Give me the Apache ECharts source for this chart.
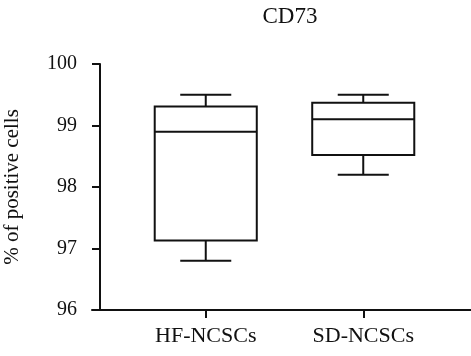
<!DOCTYPE html>
<html>
<head>
<meta charset="utf-8">
<script src="https://cdn.jsdelivr.net/npm/echarts@6/dist/echarts.min.js"></script>
<style>html,body{margin:0;padding:0;background:#fff;}#c{width:471px;height:356px;}</style>
</head>
<body>
<div id="c"></div>
<script>
const categories = ['HF-NCSCs', 'SD-NCSCs'];
const mins    = [96.80, 98.20];
const q1s     = [97.13, 98.52];
const medians = [98.90, 99.10];
const q3s     = [99.31, 99.37];
const maxs    = [99.50, 99.50];
const yTicks  = [96, 97, 98, 99, 100];
const titleText = 'CD73';
const yName = '% of positive cells';

const FONT = 'Liberation Serif';
const data = categories.map((c, i) => [i, mins[i], q1s[i], medians[i], q3s[i], maxs[i]]);

const chart = echarts.init(document.getElementById('c'), null, {renderer: 'canvas'});
chart.setOption({
  animation: false,
  backgroundColor: '#fff',
  title: {
    text: titleText, left: 285, top: 0, textAlign: 'center',
    textStyle: {fontFamily: FONT, fontSize: 23, fontWeight: 'normal', color: '#111'}
  },
  grid: [
    {left: 127, right: 29, top: 64, bottom: 46, containLabel: false, outerBoundsMode: 'none'},
    {left: 92, right: 0, top: 64, bottom: 46, containLabel: false, outerBoundsMode: 'none'}
  ],
  xAxis: [
    {
      type: 'category', gridIndex: 0, data: categories,
      axisLine: {show: false},
      axisTick: {show: true, alignWithLabel: true, length: 8, lineStyle: {color: '#111', width: 2}},
      axisLabel: {fontFamily: FONT, fontSize: 22, color: '#111', margin: 15},
      splitLine: {show: false}
    },
    {
      type: 'value', gridIndex: 1, min: 0, max: 1,
      axisLine: {show: true, lineStyle: {color: '#111', width: 2}},
      axisTick: {show: false}, axisLabel: {show: false}, splitLine: {show: false}
    }
  ],
  yAxis: [
    {
      type: 'value', gridIndex: 0, min: yTicks[0], max: yTicks[yTicks.length - 1], interval: 1,
      offset: 27,
      name: yName, nameLocation: 'middle', nameGap: 77, nameRotate: 90,
      nameTextStyle: {fontFamily: FONT, fontSize: 21, color: '#111'},
      axisLine: {show: true, lineStyle: {color: '#111', width: 2}},
      axisTick: {show: true, length: 8, lineStyle: {color: '#111', width: 2}},
      axisLabel: {fontFamily: FONT, fontSize: 20, color: '#111', margin: 23},
      splitLine: {show: false}
    },
    {type: 'value', gridIndex: 1, show: false, min: 0, max: 1}
  ],
  series: [{
    type: 'custom',
    xAxisIndex: 0, yAxisIndex: 0,
    data: data,
    encode: {x: 0, y: [1, 2, 3, 4, 5]},
    renderItem: function (params, api) {
      const i = api.value(0);
      const pMin = api.coord([i, api.value(1)]);
      const pQ1 = api.coord([i, api.value(2)]);
      const pMed = api.coord([i, api.value(3)]);
      const pQ3 = api.coord([i, api.value(4)]);
      const pMax = api.coord([i, api.value(5)]);
      const band = api.size([1, 0])[0];
      const half = band * 0.324;
      const capHalf = half / 2;
      const cx = pMed[0];
      const st = {stroke: '#111', lineWidth: 2, fill: null};
      return {
        type: 'group',
        children: [
          {type: 'rect', shape: {x: cx - half, y: pQ3[1], width: half * 2, height: pQ1[1] - pQ3[1]}, style: {stroke: '#111', lineWidth: 2, fill: '#fff'}},
          {type: 'line', shape: {x1: cx - half, y1: pMed[1], x2: cx + half, y2: pMed[1]}, style: st},
          {type: 'line', shape: {x1: cx, y1: pQ3[1], x2: cx, y2: pMax[1]}, style: st},
          {type: 'line', shape: {x1: cx - capHalf, y1: pMax[1], x2: cx + capHalf, y2: pMax[1]}, style: st},
          {type: 'line', shape: {x1: cx, y1: pQ1[1], x2: cx, y2: pMin[1]}, style: st},
          {type: 'line', shape: {x1: cx - capHalf, y1: pMin[1], x2: cx + capHalf, y2: pMin[1]}, style: st}
        ]
      };
    }
  }]
});
</script>
</body>
</html>
